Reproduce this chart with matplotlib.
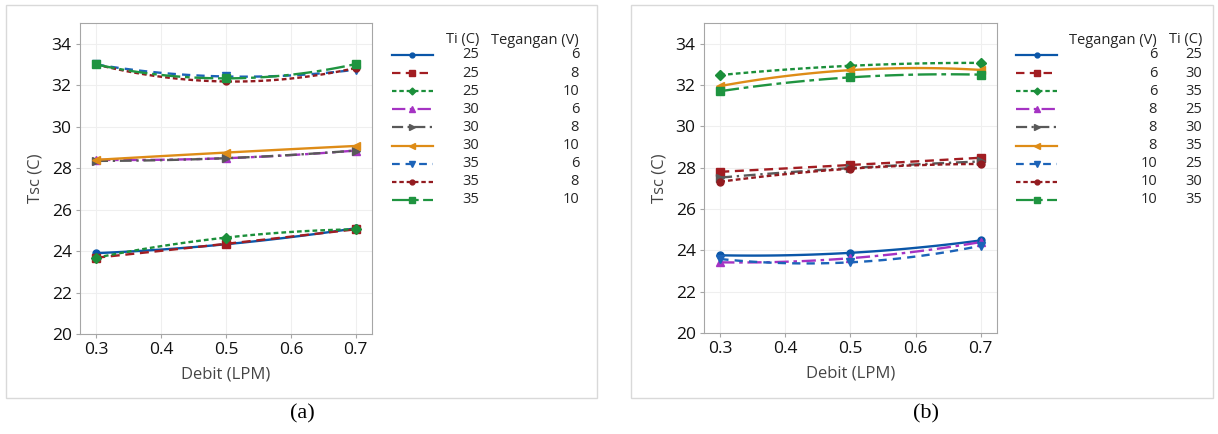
import numpy as np
import matplotlib.pyplot as plt
from matplotlib.patches import Rectangle

plt.rcParams['font.family'] = ['Open Sans', 'DejaVu Sans']

debit = [0.3, 0.5, 0.7]

# panel (a): series by (Ti, Tegangan)
a_ti = ['25', '25', '25', '30', '30', '30', '35', '35', '35']
a_teg = ['6', '8', '10', '6', '8', '10', '6', '8', '10']
a_vals = [
    [23.90, 24.33, 25.10],
    [23.68, 24.35, 25.05],
    [23.68, 24.65, 25.05],
    [28.40, 28.48, 28.85],
    [28.35, 28.48, 28.85],
    [28.40, 28.75, 29.07],
    [33.00, 32.42, 32.75],
    [33.00, 32.18, 32.83],
    [33.00, 32.33, 33.02],
]

# panel (b): series by (Tegangan, Ti)
b_teg = ['6', '6', '6', '8', '8', '8', '10', '10', '10']
b_ti = ['25', '30', '35', '25', '30', '35', '25', '30', '35']
b_vals = [
    [23.76, 23.88, 24.48],
    [27.80, 28.13, 28.48],
    [32.48, 32.93, 33.07],
    [23.42, 23.62, 24.40],
    [27.52, 27.98, 28.30],
    [31.95, 32.72, 32.73],
    [23.58, 23.42, 24.22],
    [27.32, 27.95, 28.18],
    [31.70, 32.37, 32.50],
]

colors = ['#0a56a8', '#a21d22', '#1b8f3a', '#a533c3', '#595959',
          '#de8c17', '#1c63b8', '#931b20', '#1f9440']
styles = ['-', (0, (3.8, 2.4)), (0, (2, 1.3)), (0, (6, 2, 1.5, 2)),
          (0, (5, 2, 1, 2)), '-', (0, (3.5, 2.6)), (0, (2, 1.3)),
          (0, (8, 2, 2, 2))]
markers = ['o', 's', 'D', '^', '>', '<', 'v', 'o', 's']
msizes = [5, 6, 5, 6, 6, 6, 6, 5, 6]

W, H = 1218, 434
fig = plt.figure(figsize=(W / 100, H / 100), dpi=100)


def draw_panel(ax_px, vals):
    x0, y0, x1, y1 = ax_px
    ax = fig.add_axes([x0 / W, 1 - y1 / H, (x1 - x0) / W, (y1 - y0) / H])
    xs = np.linspace(debit[0], debit[-1], 60)
    for i, v in enumerate(vals):
        c = np.polyfit(debit, v, 2)
        ax.plot(xs, np.polyval(c, xs), color=colors[i], ls=styles[i], lw=1.7)
        ax.plot(debit, v, ls='none', marker=markers[i], ms=msizes[i],
                color=colors[i])
    ax.set_xlim(0.275, 0.725)
    ax.set_ylim(20, 35)
    ax.set_xticks([0.3, 0.4, 0.5, 0.6, 0.7])
    ax.set_yticks([20, 22, 24, 26, 28, 30, 32, 34])
    ax.grid(color='#efefef', lw=0.8)
    ax.set_axisbelow(True)
    for s in ax.spines.values():
        s.set_color('#a6a6a6')
    ax.tick_params(labelsize=12.5, colors='#a6a6a6', labelcolor='#111111',
                   length=3, pad=3)
    for lab in ax.get_xticklabels() + ax.get_yticklabels():
        lab.set_fontweight('medium')
    ax.set_xlabel('Debit (LPM)', fontsize=12, color='#454545', labelpad=6,
                  fontweight='medium')
    ax.set_ylabel('Tsc (C)', fontsize=12, color='#454545', labelpad=6,
                  fontweight='medium')
    return ax


def draw_legend(box, sw, col1, col2, h1, h2, c1x, c2x):
    bx0, by0, bx1, by1 = box
    lax = fig.add_axes([bx0 / W, 1 - by1 / H, (bx1 - bx0) / W, (by1 - by0) / H])
    lax.set_xlim(bx0, bx1)
    lax.set_ylim(by1, by0)
    lax.axis('off')
    kw = dict(ha='right', va='center', fontsize=10.5, color='#262626')
    lax.text(c1x, 40, h1, **kw)
    lax.text(c2x, 40, h2, **kw)
    for i in range(9):
        y = 55 + i * 18.1
        lax.plot([sw[0], sw[1]], [y, y], color=colors[i], ls=styles[i], lw=1.6)
        lax.plot([(sw[0] + sw[1]) / 2], [y], marker=markers[i],
                 ms=msizes[i] - 1.5, color=colors[i], ls='none')
        lax.text(c1x, y, col1[i], **kw)
        lax.text(c2x, y, col2[i], **kw)


# panel frames
fig.add_artist(Rectangle((6 / W, 1 - 398 / H), 591 / W, 393 / H,
                         transform=fig.transFigure, fill=False,
                         ec='#d9d9d9', lw=1))
fig.add_artist(Rectangle((631 / W, 1 - 398 / H), 582 / W, 393 / H,
                         transform=fig.transFigure, fill=False,
                         ec='#d9d9d9', lw=1))

draw_panel((80, 23, 372, 334), a_vals)
draw_panel((704, 23, 997, 333), b_vals)

draw_legend((385, 25, 595, 215), (392, 433), a_ti, a_teg,
            'Ti (C)', 'Tegangan (V)', 479, 579)
draw_legend((1008, 25, 1212, 215), (1016, 1057), b_teg, b_ti,
            'Tegangan (V)', 'Ti (C)', 1157, 1202)

fig.text(302 / W, 1 - 414 / H, '(a)', ha='center', va='center',
         fontsize=16, family='Liberation Serif')
fig.text(926 / W, 1 - 414 / H, '(b)', ha='center', va='center',
         fontsize=16, family='Liberation Serif')

fig.savefig('out.png', dpi=100)
